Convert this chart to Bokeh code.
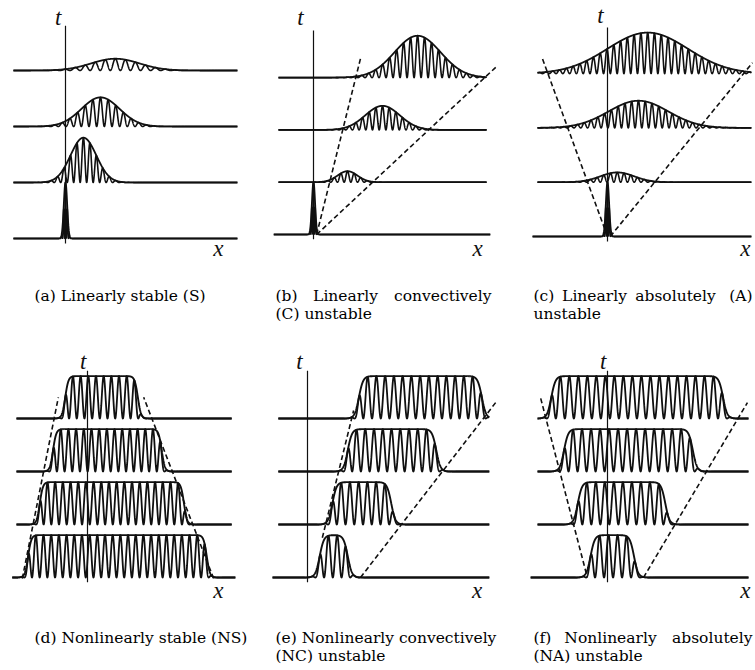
import numpy as np
from bokeh.plotting import figure
from bokeh.layouts import row, column
from bokeh.models import Range1d
from bokeh.core.properties import value
from bokeh.embed import file_html
from bokeh.resources import INLINE

INK = "#101010"

# ----------------------------------------------------------------- data
levels = [0, 1, 2, 3]

# impulse at t = 0 (linear panels)
impulse_amp = 1.0
impulse_sigma = 0.03
impulse_wavelength = 0.035

# (a) linearly stable : wave packets at t = 1, 2, 3
a_centre = [0.32, 0.625, 0.89]
a_amp = [0.80, 0.52, 0.21]
a_sigma = [0.23, 0.34, 0.43]
a_wavelength = [0.116, 0.137, 0.18]
a_line = [(-0.93, 3.07), (-0.93, 3.07), (-0.93, 3.07), (-0.93, 3.07)]

# (b) linearly convectively unstable
b_centre = [0.65, 1.32, 1.99]
b_amp = [0.21, 0.46, 0.80]
b_sigma = [0.19, 0.33, 0.44]
b_wavelength = [0.128, 0.128, 0.134]
b_line = [(-0.76, 3.38), (-0.67, 3.31), (-0.67, 3.31), (-0.67, 3.31)]
b_ray_left_x, b_ray_left_t = [0.06, 0.90], [0.0, 3.37]
b_ray_right_x, b_ray_right_t = [0.06, 3.52], [0.0, 3.23]

# (c) linearly absolutely unstable
c_centre = [0.18, 0.57, 0.74]
c_amp = [0.18, 0.50, 0.755]
c_sigma = [0.31, 0.55, 0.74]
c_wavelength = [0.125, 0.125, 0.125]
c_line = [(-1.38, 2.65), (-1.29, 2.65), (-1.29, 2.65), (-1.29, 2.65)]
c_ray_left_x, c_ray_left_t = [0.0, -1.20], [0.0, 3.28]
c_ray_right_x, c_ray_right_t = [0.05, 2.67], [0.0, 3.20]

# nonlinear panels: fronts of the saturated wave train at t = 0, 1, 2, 3
plateau_amp = 0.8

# (d) nonlinearly stable
d_left_front = [-1.12, -0.90, -0.65, -0.42]
d_right_front = [2.25, 1.82, 1.40, 0.95]
d_front_width = 0.06
d_wavelength = 0.145
d_line = [(-1.42, 2.79), (-1.34, 2.72), (-1.34, 2.72), (-1.34, 2.72)]
d_ray_left_x, d_ray_left_t = [-1.23, -0.55], [-0.02, 3.40]
d_ray_right_x, d_ray_right_t = [2.38, 1.06], [-0.02, 3.40]

# (e) nonlinearly convectively unstable
e_left_front = [0.23, 0.47, 0.76, 0.97]
e_right_front = [0.76, 1.58, 2.43, 3.29]
e_front_width = 0.08
e_wavelength = 0.165
e_line = [(-0.66, 3.43), (-0.55, 3.43), (-0.55, 3.43), (-0.55, 3.43)]
e_ray_left_x, e_ray_left_t = [0.28, 0.87], [0.75, 3.15]
e_ray_right_x, e_ray_right_t = [1.00, 3.55], [0.0, 3.30]

# (f) nonlinearly absolutely unstable
f_left_front = [-0.32, -0.56, -0.82, -1.06]
f_right_front = [0.50, 1.09, 1.61, 2.18]
f_front_width = 0.08
f_wavelength = 0.17
f_line = [(-1.45, 2.66), (-1.32, 2.66), (-1.32, 2.66), (-1.32, 2.66)]
f_ray_left_x, f_ray_left_t = [-1.26, -0.38], [3.38, 0.0]
f_ray_right_x, f_ray_right_t = [0.68, 2.64], [0.0, 3.30]

captions = {
    "a": [("(a) Linearly stable (S)", 34, 295, "left")],
    "b": [("(b)", 275, 295, "left"), ("Linearly", 345, 295, "center"),
          ("convectively", 491, 295, "right"), ("(C) unstable", 275, 313, "left")],
    "c": [("(c)", 533, 295, "left"), ("Linearly", 594, 295, "center"),
          ("absolutely", 675, 295, "center"), ("(A)", 752, 295, "right"),
          ("unstable", 533, 313, "left")],
    "d": [("(d) Nonlinearly stable (NS)", 34, 637, "left")],
    "e": [("(e) Nonlinearly convectively", 275, 637, "left"),
          ("(NC) unstable", 275, 655, "left")],
    "f": [("(f)", 533, 637, "left"), ("Nonlinearly", 610, 637, "center"),
          ("absolutely", 752, 637, "right"), ("(NA) unstable", 533, 655, "left")],
}

# ----------------------------------------------------------------- layout (page pixels)
# left, top, width, height, axis x, baseline y, px per unit
frames = {
    "a": (0, 0, 250, 328, 65, 238, 56.0),
    "b": (250, 0, 250, 328, 313, 234, 52.3),
    "c": (500, 0, 255, 328, 607, 236, 54.3),
    "d": (0, 328, 250, 342, 87, 577, 53.0),
    "e": (250, 328, 250, 342, 307, 577, 53.0),
    "f": (500, 328, 255, 342, 607, 577, 53.0),
}
axis_top = {"a": 3.8, "b": 3.9, "c": 3.85, "d": 3.9, "e": 3.9, "f": 3.9}
t_label = {"a": (-0.13, 3.95), "b": (-0.25, 4.15), "c": (-0.13, 4.07),
           "d": (-0.08, 4.08), "e": (-0.15, 4.08), "f": (-0.08, 4.08)}
x_label = {"a": (2.73, -0.18), "b": (3.14, -0.27), "c": (2.54, -0.22),
           "d": (2.47, -0.25), "e": (3.20, -0.25), "f": (2.60, -0.25)}


def make_panel(key):
    left, top, w, h, ax, by, s = frames[key]
    p = figure(width=w, height=h, output_backend="svg", toolbar_location=None,
               x_range=Range1d((left - ax) / s, (left + w - ax) / s),
               y_range=Range1d((by - (top + h)) / s, (by - top) / s),
               x_axis_type=None, y_axis_type=None, min_border=0,
               outline_line_color=None, background_fill_color="white",
               border_fill_color="white")
    # time axis
    p.line([0, 0], [-0.09, axis_top[key]], line_color=INK, line_width=1.2)
    tx, tt = t_label[key]
    p.text([tx], [tt], text=["t"], text_font=value("Liberation Serif"),
           text_font_style="italic", text_font_size="23px", text_color=INK,
           text_align="center", text_baseline="middle")
    xx, xt = x_label[key]
    p.text([xx], [xt], text=["x"], text_font=value("Liberation Serif"),
           text_font_style="italic", text_font_size="23px", text_color=INK,
           text_align="center", text_baseline="middle")
    for txt, px_, py_, al in captions[key]:
        p.text([(px_ - ax) / s], [(by - py_) / s], text=[txt],
               text_font=value("DejaVu Serif"), text_font_size="15.5px",
               text_color="#000000", text_align=al, text_baseline="middle")
    return p


def draw_linear(p, centre, amp, sigma, wavelength, line):
    # impulse at t = 0
    x0, x1 = line[0]
    x = np.linspace(x0, x1, 6000)
    env = impulse_amp * np.exp(-0.5 * (x / impulse_sigma) ** 2)
    p.line(x, env * np.cos(np.pi * x / impulse_wavelength) ** 2, line_color=INK, line_width=1.4)
    p.line(x, env, line_color=INK, line_width=1.8)
    for i, t in enumerate(levels[1:]):
        x0, x1 = line[t]
        x = np.linspace(x0, x1, 4000)
        env = amp[i] * np.exp(-0.5 * ((x - centre[i]) / sigma[i]) ** 2)
        wave = env * np.cos(np.pi * (x - centre[i]) / wavelength[i]) ** 2
        p.line(x, t + wave, line_color=INK, line_width=1.6)
        p.line(x, t + env, line_color=INK, line_width=1.8)


def draw_nonlinear(p, lf, rf, width, wavelength, line):
    for t in levels:
        x0, x1 = line[t]
        x = np.linspace(x0, x1, 5000)
        env = plateau_amp * 0.5 * (np.tanh((x - lf[t]) / width) - np.tanh((x - rf[t]) / width))
        wave = env * np.cos(np.pi * (x - lf[t]) / wavelength) ** 2
        p.line(x, t + wave, line_color=INK, line_width=1.8)
        p.line(x, t + env, line_color=INK, line_width=1.9)


def rays(p, xs_list, ts_list):
    for xs, ts in zip(xs_list, ts_list):
        p.line(xs, ts, line_color=INK, line_width=1.6, line_dash="5 3")


pa = make_panel("a")
draw_linear(pa, a_centre, a_amp, a_sigma, a_wavelength, a_line)

pb = make_panel("b")
draw_linear(pb, b_centre, b_amp, b_sigma, b_wavelength, b_line)
rays(pb, [b_ray_left_x, b_ray_right_x], [b_ray_left_t, b_ray_right_t])

pc = make_panel("c")
draw_linear(pc, c_centre, c_amp, c_sigma, c_wavelength, c_line)
rays(pc, [c_ray_left_x, c_ray_right_x], [c_ray_left_t, c_ray_right_t])

pd = make_panel("d")
draw_nonlinear(pd, d_left_front, d_right_front, d_front_width, d_wavelength, d_line)
rays(pd, [d_ray_left_x, d_ray_right_x], [d_ray_left_t, d_ray_right_t])

pe = make_panel("e")
draw_nonlinear(pe, e_left_front, e_right_front, e_front_width, e_wavelength, e_line)
rays(pe, [e_ray_left_x, e_ray_right_x], [e_ray_left_t, e_ray_right_t])

pf = make_panel("f")
draw_nonlinear(pf, f_left_front, f_right_front, f_front_width, f_wavelength, f_line)
rays(pf, [f_ray_left_x, f_ray_right_x], [f_ray_left_t, f_ray_right_t])

layout = column(row(pa, pb, pc), row(pd, pe, pf))
open("out.html", "w").write(file_html(layout, INLINE))
